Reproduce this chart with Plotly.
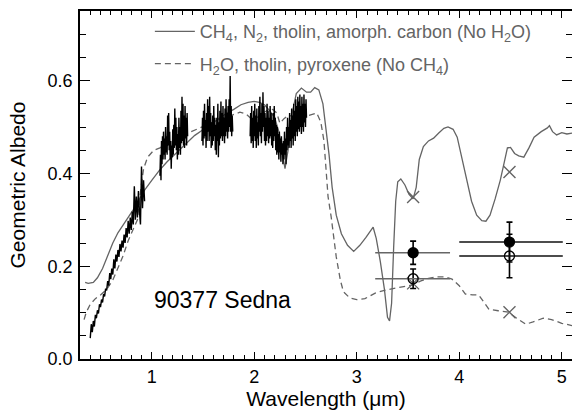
import numpy as np
import plotly.graph_objects as go

# ---------------- data ----------------
vis_start, vis_step = 0.40, 0.01
vis_vals = [0.045, 0.075, 0.058, 0.082, 0.070, 0.095, 0.088, 0.105, 0.098, 0.118,
            0.112, 0.128, 0.122, 0.140, 0.135, 0.152, 0.148, 0.168, 0.158, 0.185,
            0.172, 0.195, 0.182, 0.215, 0.195, 0.225, 0.210, 0.235, 0.220, 0.248,
            0.232, 0.255, 0.240, 0.268, 0.250, 0.282, 0.262, 0.298, 0.270, 0.305,
            0.278, 0.318, 0.290, 0.372, 0.300, 0.350, 0.305, 0.362, 0.318, 0.290,
            0.415, 0.325, 0.385, 0.340]

j_start, j_step = 1.080, 0.005
j_vals = [0.395, 0.44, 0.385, 0.47, 0.42, 0.48, 0.43, 0.49, 0.44, 0.475,
          0.43, 0.50, 0.445, 0.48, 0.44, 0.525, 0.46, 0.53, 0.45, 0.49,
          0.43, 0.47, 0.41, 0.46, 0.435, 0.495, 0.44, 0.505, 0.455, 0.54,
          0.46, 0.52, 0.45, 0.50, 0.43, 0.485, 0.44, 0.52, 0.455, 0.50,
          0.44, 0.535, 0.465, 0.565, 0.47, 0.55, 0.46, 0.525, 0.455, 0.545,
          0.475, 0.52, 0.46, 0.53, 0.48]

h_start, h_step = 1.490, 0.005
h_vals = [0.47, 0.52, 0.46, 0.535, 0.475, 0.55, 0.48, 0.515, 0.455, 0.53,
          0.47, 0.56, 0.49, 0.545, 0.47, 0.565, 0.48, 0.53, 0.455, 0.51,
          0.46, 0.525, 0.47, 0.545, 0.48, 0.52, 0.45, 0.505, 0.44, 0.52,
          0.47, 0.55, 0.435, 0.51, 0.46, 0.535, 0.475, 0.555, 0.48, 0.53,
          0.47, 0.545, 0.48, 0.52, 0.465, 0.54, 0.48, 0.56, 0.49, 0.53,
          0.475, 0.545, 0.49, 0.56, 0.50, 0.61, 0.49, 0.545, 0.48, 0.525,
          0.49]

k_start, k_step = 1.960, 0.005
k_vals = [0.48, 0.53, 0.465, 0.545, 0.47, 0.52, 0.455, 0.535, 0.48, 0.55,
          0.47, 0.525, 0.455, 0.54, 0.475, 0.51, 0.46, 0.545, 0.49, 0.565,
          0.48, 0.53, 0.465, 0.55, 0.49, 0.575, 0.50, 0.545, 0.47, 0.53,
          0.46, 0.52, 0.47, 0.55, 0.48, 0.535, 0.465, 0.52, 0.475, 0.545,
          0.48, 0.53, 0.46, 0.515, 0.455, 0.53, 0.47, 0.545, 0.48, 0.52,
          0.45, 0.505, 0.44, 0.50, 0.445, 0.485, 0.43, 0.49, 0.445, 0.475,
          0.425, 0.48, 0.44, 0.465, 0.42, 0.47, 0.43, 0.49, 0.44, 0.475,
          0.42, 0.50, 0.45, 0.52, 0.46, 0.50, 0.455, 0.53, 0.47, 0.515,
          0.455, 0.54, 0.475, 0.525, 0.46, 0.55, 0.48, 0.535, 0.47, 0.56,
          0.49, 0.545, 0.48, 0.565, 0.495, 0.555, 0.49, 0.57, 0.50, 0.545,
          0.485, 0.565, 0.50, 0.55, 0.49, 0.57, 0.51, 0.55, 0.50, 0.56,
          0.52]

# Model 1: CH4, N2, tholin, amorphous carbon
m1_wl = [0.35, 0.38, 0.43, 0.47, 0.52, 0.57, 0.62, 0.67, 0.72, 0.77,
         0.82, 0.87, 0.93, 1.00, 1.08, 1.15, 1.22, 1.28, 1.35, 1.42,
         1.50, 1.57, 1.65, 1.72, 1.80, 1.87, 1.94, 2.00, 2.05, 2.10,
         2.15, 2.20, 2.24, 2.28, 2.30, 2.33, 2.37, 2.41, 2.46, 2.51,
         2.55, 2.59, 2.63, 2.67, 2.70, 2.73, 2.76, 2.80, 2.85, 2.91,
         2.97, 3.03, 3.09, 3.13, 3.16, 3.19, 3.23, 3.27, 3.30, 3.32,
         3.34, 3.36, 3.38, 3.40, 3.43, 3.47, 3.51, 3.55, 3.58, 3.61,
         3.65, 3.70, 3.75, 3.80, 3.85, 3.89, 3.94, 3.98, 4.02, 4.07,
         4.12, 4.17, 4.22, 4.26, 4.30, 4.35, 4.40, 4.44, 4.47, 4.50,
         4.54, 4.58, 4.63, 4.68, 4.73, 4.80, 4.86, 4.88, 4.91, 4.95,
         5.00, 5.05, 5.10]
m1_alb = [0.165, 0.163, 0.165, 0.175, 0.195, 0.222, 0.250, 0.272, 0.290, 0.305,
          0.322, 0.342, 0.364, 0.385, 0.408, 0.425, 0.440, 0.452, 0.468, 0.482,
          0.494, 0.505, 0.518, 0.528, 0.538, 0.548, 0.553, 0.555, 0.553, 0.548,
          0.535, 0.520, 0.490, 0.430, 0.410, 0.450, 0.530, 0.572, 0.584, 0.575,
          0.575, 0.585, 0.580, 0.550, 0.500, 0.440, 0.370, 0.310, 0.270, 0.245,
          0.232, 0.245, 0.262, 0.275, 0.284, 0.260, 0.210, 0.150, 0.090, 0.082,
          0.120, 0.240, 0.340, 0.382, 0.388, 0.375, 0.355, 0.345, 0.370, 0.430,
          0.458, 0.470, 0.476, 0.487, 0.497, 0.500, 0.495, 0.478, 0.440, 0.390,
          0.340, 0.310, 0.298, 0.297, 0.310, 0.345, 0.385, 0.425, 0.455, 0.456,
          0.443, 0.438, 0.435, 0.455, 0.478, 0.490, 0.498, 0.503, 0.490, 0.483,
          0.488, 0.485, 0.487]

# Model 2: H2O, tholin, pyroxene
m2_wl = [0.34, 0.36, 0.40, 0.45, 0.50, 0.56, 0.62, 0.67, 0.72, 0.77,
         0.82, 0.86, 0.89, 0.92, 0.96, 1.02, 1.08, 1.16, 1.24, 1.35,
         1.47, 1.60, 1.70, 1.79, 1.86, 1.92, 1.96, 2.00, 2.05, 2.12,
         2.18, 2.22, 2.25, 2.29, 2.33, 2.40, 2.47, 2.55, 2.61, 2.65,
         2.68, 2.70, 2.72, 2.75, 2.78, 2.80, 2.84, 2.87, 2.93, 3.00,
         3.08, 3.18, 3.27, 3.35, 3.45, 3.55, 3.62, 3.70, 3.78, 3.86,
         3.93, 4.00, 4.06, 4.13, 4.19, 4.25, 4.29, 4.38, 4.48, 4.56,
         4.65, 4.72, 4.82, 4.90, 5.00, 5.10]
m2_alb = [0.085, 0.100, 0.118, 0.130, 0.138, 0.150, 0.170, 0.195, 0.222, 0.255,
          0.280, 0.300, 0.360, 0.410, 0.435, 0.450, 0.455, 0.466, 0.475, 0.487,
          0.498, 0.510, 0.520, 0.526, 0.532, 0.528, 0.520, 0.515, 0.525, 0.535,
          0.538, 0.530, 0.508, 0.518, 0.525, 0.522, 0.520, 0.526, 0.530, 0.510,
          0.470, 0.410, 0.350, 0.307, 0.250, 0.220, 0.170, 0.145, 0.132, 0.128,
          0.130, 0.142, 0.148, 0.151, 0.155, 0.160, 0.168, 0.174, 0.177, 0.177,
          0.172, 0.158, 0.140, 0.138, 0.138, 0.120, 0.107, 0.104, 0.101, 0.088,
          0.075, 0.080, 0.088, 0.085, 0.077, 0.072]

# Spitzer IRAC photometry
band_center = [3.55, 4.49]
band_lo = [3.18, 4.00]
band_hi = [3.91, 5.01]
filled_alb = [0.229, 0.252]
filled_err = [0.025, 0.043]
open_alb = [0.173, 0.222]
open_err = [0.021, 0.047]
band_line_color = ["#666666", "#111111"]

# Band-integrated model albedos
x_m1 = [0.349, 0.403]
x_m2 = [0.163, 0.101]

x_ticks = [1, 2, 3, 4, 5]

# ---------------- figure ----------------
FONT = "Liberation Sans, Arial, Helvetica, sans-serif"
GRAY = "#646464"
X_RANGE = [0.3, 5.1]
Y_RANGE = [0, 0.75]


def band(start, step, vals):
    wl = start + step * np.arange(len(vals))
    return list(wl), list(vals)


spec_x, spec_y = [], []
for s, st, v in [(vis_start, vis_step, vis_vals), (j_start, j_step, j_vals),
                 (h_start, h_step, h_vals), (k_start, k_step, k_vals)]:
    bx, by = band(s, st, v)
    spec_x += bx + [None]
    spec_y += by + [None]

fig = go.Figure()

fig.add_trace(go.Scatter(
    x=m1_wl, y=m1_alb, mode="lines", line=dict(color=GRAY, width=1.3),
    name="CH<sub>4</sub>, N<sub>2</sub>, tholin, amorph. carbon (No H<sub>2</sub>O)",
    legendgroup="a", showlegend=True))
fig.add_trace(go.Scatter(
    x=m2_wl, y=m2_alb, mode="lines",
    line=dict(color=GRAY, width=1.3, dash="6px,4px"),
    name="H<sub>2</sub>O, tholin, pyroxene (No CH<sub>4</sub>)",
    legendgroup="b", showlegend=True))

fig.add_trace(go.Scatter(
    x=spec_x, y=spec_y, mode="lines", line=dict(color="black", width=1.4),
    showlegend=False, connectgaps=False))

# model band-integrated X's
fig.add_trace(go.Scatter(
    x=band_center + band_center, y=x_m1 + x_m2, mode="markers",
    marker=dict(symbol="x-thin-open", size=12, line=dict(color=GRAY, width=1.4), color=GRAY),
    showlegend=False))

for i in range(len(band_center)):
    for vals, errs, sym in [(filled_alb, filled_err, "circle"),
                            (open_alb, open_err, "circle-open")]:
        fig.add_trace(go.Scatter(
            x=[band_center[i]], y=[vals[i]], mode="markers",
            marker=dict(symbol=sym, size=10, color="black",
                        line=dict(color="black", width=1.3)),
            error_y=dict(type="data", array=[errs[i]], color="black",
                         thickness=1.6, width=3),
            error_x=dict(type="data", symmetric=False,
                         array=[band_hi[i] - band_center[i]],
                         arrayminus=[band_center[i] - band_lo[i]],
                         color=band_line_color[i], thickness=1.4, width=0),
            showlegend=False))

fig.add_annotation(x=1.0, y=0.128, xref="x", yref="y", text="90377 Sedna",
                   showarrow=False, xanchor="left", yanchor="middle",
                   font=dict(family=FONT, size=23, color="black"))

tick_common = dict(showline=True, linecolor="black", linewidth=1.6, mirror="ticks",
                   ticks="inside", tickcolor="black", tickwidth=1.4, showgrid=False,
                   zeroline=False, automargin=False,
                   tickfont=dict(family=FONT, size=18, color="black"))
xminor = dict(dtick=0.1, tick0=0, ticklen=4, ticks="inside", tickcolor="black",
              tickwidth=1.2, showgrid=False)
yminor = dict(dtick=0.05, tick0=0, ticklen=6, ticks="inside", tickcolor="black",
              tickwidth=1.2, showgrid=False)

fig.update_xaxes(range=X_RANGE, tickvals=x_ticks, ticklen=7, minor=xminor,
                 ticklabelstandoff=1,
                 title=dict(text="Wavelength (μm)", standoff=4,
                            font=dict(family=FONT, size=21, color="black")),
                 **tick_common)
fig.update_yaxes(range=Y_RANGE, dtick=0.2, tick0=0, tickformat=".1f", ticklen=10,
                 minor=yminor, ticklabelstandoff=2,
                 title=dict(text="Geometric Albedo", standoff=16,
                            font=dict(family=FONT, size=21, color="black")),
                 **tick_common)

fig.update_layout(
    template="none",
    width=572, height=412,
    margin=dict(l=80, r=0, t=11, b=53, pad=0),
    paper_bgcolor="white", plot_bgcolor="white",
    font=dict(family=FONT, color="black"),
    legend=dict(x=0.142, y=0.994, xanchor="left", yanchor="top",
                bgcolor="rgba(0,0,0,0)", borderwidth=0,
                font=dict(family=FONT, size=18, color=GRAY),
                tracegroupgap=6, itemwidth=40),
)

fig.write_html("out.html", config={"displayModeBar": False},
               post_script="document.body.style.margin='0px';")
